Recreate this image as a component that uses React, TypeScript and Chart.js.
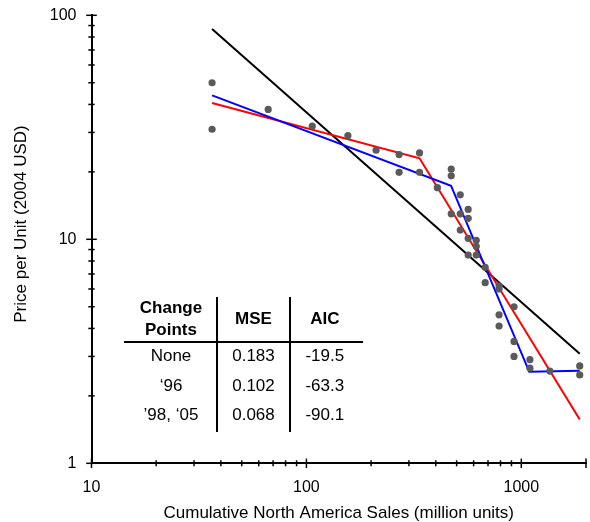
import React, { useEffect, useRef } from 'react';
import { Chart, registerables } from 'chart.js';

Chart.register(...registerables);

// Observed data (cumulative sales in million units, price per unit in 2004 USD)
const sampleX = [36.4, 36.4, 66.4, 106.5, 156, 211, 270, 270, 336, 336, 407, 472, 472, 472, 520, 520, 520, 566, 566, 566, 566, 617, 617, 617, 679, 679, 788, 788, 788, 788, 925, 925, 925, 1097, 1097, 1358, 1870, 1870];
const sampleY = [50, 31, 38, 32, 29, 25, 23.9, 19.9, 24.3, 19.9, 17, 20.6, 19.2, 13, 15.8, 13, 11, 13.6, 12.4, 10.1, 8.5, 9.9, 9.3, 8.5, 7.5, 6.4, 6.2, 6.0, 4.6, 4.1, 5.0, 3.5, 3.0, 2.9, 2.66, 2.58, 2.72, 2.48];

// Fitted experience curves
const noChangeX = [36.4, 1870];
const noChangeY = [86.9, 3.08];
const oneChangeX = [36.4, 336, 1870];
const oneChangeY = [40.6, 23.0, 1.57];
const twoChangeX = [36.4, 471, 1089, 1870];
const twoChangeY = [43.9, 17.35, 2.56, 2.59];

// Axis ticks
const xTickValues = [10, 20, 30, 40, 50, 60, 70, 80, 90, 100, 200, 300, 400, 500, 600, 700, 800, 900, 1000, 2000];
const xMajorTicks = [10, 100, 1000, 2000];
const xTickLabels = [10, 100, 1000];
const yTickValues = [1, 2, 3, 4, 5, 6, 7, 8, 9, 10, 20, 30, 40, 50, 60, 70, 80, 90, 100];
const yMajorTicks = [1, 10, 100];
const yTickLabels = [1, 10, 100];

const xTitle = 'Cumulative North America Sales (million units)';
const yTitle = 'Price per Unit (2004 USD)';

// Table
const tableHeaderLine1 = ['Change', 'MSE', 'AIC'];
const tableHeaderLine2 = ['Points'];
const changePoints = ['None', '\u201896', '\u201998, \u201805'];
const mseValues = ['0.183', '0.102', '0.068'];
const aicValues = ['-19.5', '-63.3', '-90.1'];

const FONT = "'Liberation Sans', Arial, Helvetica, sans-serif";

const toPts = (xs: number[], ys: number[]) => xs.map((x, i) => ({ x, y: ys[i] }));

const zeroPad = (scale: any) => {
  scale.paddingTop = 0;
  scale.paddingBottom = 0;
  scale.paddingLeft = 0;
  scale.paddingRight = 0;
};

const axisPlugin = {
  id: 'axisDecor',
  afterDraw(chart: any) {
    const { ctx } = chart;
    const xs = chart.scales.x;
    const ys = chart.scales.y;
    ctx.save();
    ctx.strokeStyle = '#000';
    ctx.lineWidth = 1.5;
    const axisY = xs.top;
    xTickValues.forEach((v) => {
      const px = xs.getPixelForValue(v);
      const h = xMajorTicks.includes(v) ? 4.7 : 3;
      ctx.beginPath();
      ctx.moveTo(px, axisY - h);
      ctx.lineTo(px, axisY + h);
      ctx.stroke();
    });
    const axisX = ys.right;
    yTickValues.forEach((v) => {
      const py = ys.getPixelForValue(v);
      const h = yMajorTicks.includes(v) ? 5.3 : 3.2;
      ctx.beginPath();
      ctx.moveTo(axisX - h, py);
      ctx.lineTo(axisX + h, py);
      ctx.stroke();
    });
    // y axis title
    ctx.translate(21.8, 224);
    ctx.rotate(-Math.PI / 2);
    ctx.fillStyle = '#000';
    ctx.font = `17px ${FONT}`;
    ctx.textAlign = 'center';
    ctx.textBaseline = 'middle';
    ctx.fillText(yTitle, 0, 0);
    ctx.restore();
  },
};

const cellStyle = (cx: number, top: number, bold: boolean): React.CSSProperties => ({
  position: 'absolute',
  left: cx - 60,
  top,
  width: 120,
  textAlign: 'center',
  fontFamily: FONT,
  fontSize: 17,
  lineHeight: '20px',
  fontWeight: bold ? 'bold' : 'normal',
  color: '#000',
  whiteSpace: 'nowrap',
});

export default function App() {
  const ref = useRef<HTMLCanvasElement | null>(null);

  useEffect(() => {
    if (!ref.current) return;
    const chart = new Chart(ref.current, {
      type: 'scatter',
      data: {
        datasets: [
          {
            label: 'Observed',
            data: toPts(sampleX, sampleY),
            pointRadius: 3.6,
            pointBackgroundColor: '#5a5a5a',
            pointBorderWidth: 0,
            showLine: false,
            clip: false as any,
          },
          {
            label: 'Two change points',
            data: toPts(twoChangeX, twoChangeY),
            showLine: true,
            borderColor: '#0000ff',
            borderWidth: 2,
            pointRadius: 0,
            clip: false as any,
          },
          {
            label: 'One change point',
            data: toPts(oneChangeX, oneChangeY),
            showLine: true,
            borderColor: '#ff0000',
            borderWidth: 2,
            pointRadius: 0,
            clip: false as any,
          },
          {
            label: 'No change point',
            data: toPts(noChangeX, noChangeY),
            showLine: true,
            borderColor: '#000000',
            borderWidth: 2,
            pointRadius: 0,
            clip: false as any,
          },
        ],
      },
      options: {
        responsive: false,
        animation: false,
        devicePixelRatio: 1,
        layout: { padding: { top: 15.3, right: 1.7, bottom: 0, left: 0 } },
        plugins: { legend: { display: false }, tooltip: { enabled: false } },
        scales: {
          x: {
            type: 'logarithmic',
            position: 'bottom',
            min: 10,
            max: 2000,
            grid: { display: false, drawTicks: false },
            border: { display: true, color: '#000', width: 2 },
            afterBuildTicks: (scale: any) => {
              scale.ticks = xTickValues.map((v) => ({ value: v, major: xMajorTicks.includes(v) }));
            },
            afterFit: (scale: any) => {
              scale.height = 58.7;
              zeroPad(scale);
            },
            ticks: {
              autoSkip: false,
              maxRotation: 0,
              minRotation: 0,
              padding: 15,
              color: '#000',
              font: { family: FONT, size: 16 },
              callback: (v: any) => (xTickLabels.includes(Number(v)) ? String(v) : ''),
            },
            title: {
              display: true,
              text: xTitle,
              color: '#000',
              font: { family: FONT, size: 17, lineHeight: 1 },
              padding: { top: 0, bottom: 0 },
            },
          },
          y: {
            type: 'logarithmic',
            position: 'left',
            min: 1,
            max: 100,
            grid: { display: false, drawTicks: false },
            border: { display: true, color: '#000', width: 2 },
            afterBuildTicks: (scale: any) => {
              scale.ticks = yTickValues.map((v) => ({ value: v, major: yMajorTicks.includes(v) }));
            },
            afterFit: (scale: any) => {
              scale.width = 91.5;
              zeroPad(scale);
            },
            ticks: {
              autoSkip: false,
              padding: 15,
              color: '#000',
              font: { family: FONT, size: 16 },
              callback: (v: any) => (yTickLabels.includes(Number(v)) ? String(v) : ''),
            },
          },
        },
      },
      plugins: [axisPlugin],
    } as any);
    return () => chart.destroy();
  }, []);

  const colX = [171, 253.5, 324.8];
  const rowTops = [346.1, 375.8, 405.1];

  return (
    <div style={{ position: 'absolute', left: 0, top: 0, width: 590, height: 522, background: '#fff' }}>
      <canvas ref={ref} width={590} height={522} style={{ position: 'absolute', left: 0, top: 0, width: 590, height: 522 }} />
      <div style={cellStyle(colX[0], 298.4, true)}>{tableHeaderLine1[0]}</div>
      <div style={cellStyle(colX[0], 319.8, true)}>{tableHeaderLine2[0]}</div>
      <div style={cellStyle(colX[1], 309.1, true)}>{tableHeaderLine1[1]}</div>
      <div style={cellStyle(colX[2], 309.1, true)}>{tableHeaderLine1[2]}</div>
      {changePoints.map((t, i) => (
        <div key={'c' + i} style={cellStyle(colX[0], rowTops[i], false)}>{t}</div>
      ))}
      {mseValues.map((t, i) => (
        <div key={'m' + i} style={cellStyle(colX[1], rowTops[i], false)}>{t}</div>
      ))}
      {aicValues.map((t, i) => (
        <div key={'a' + i} style={cellStyle(colX[2], rowTops[i], false)}>{t}</div>
      ))}
      <div style={{ position: 'absolute', left: 124, top: 340.7, width: 239, height: 2, background: '#000' }} />
      <div style={{ position: 'absolute', left: 216.3, top: 296.7, width: 2, height: 135, background: '#000' }} />
      <div style={{ position: 'absolute', left: 289, top: 296.7, width: 2, height: 135, background: '#000' }} />
    </div>
  );
}
